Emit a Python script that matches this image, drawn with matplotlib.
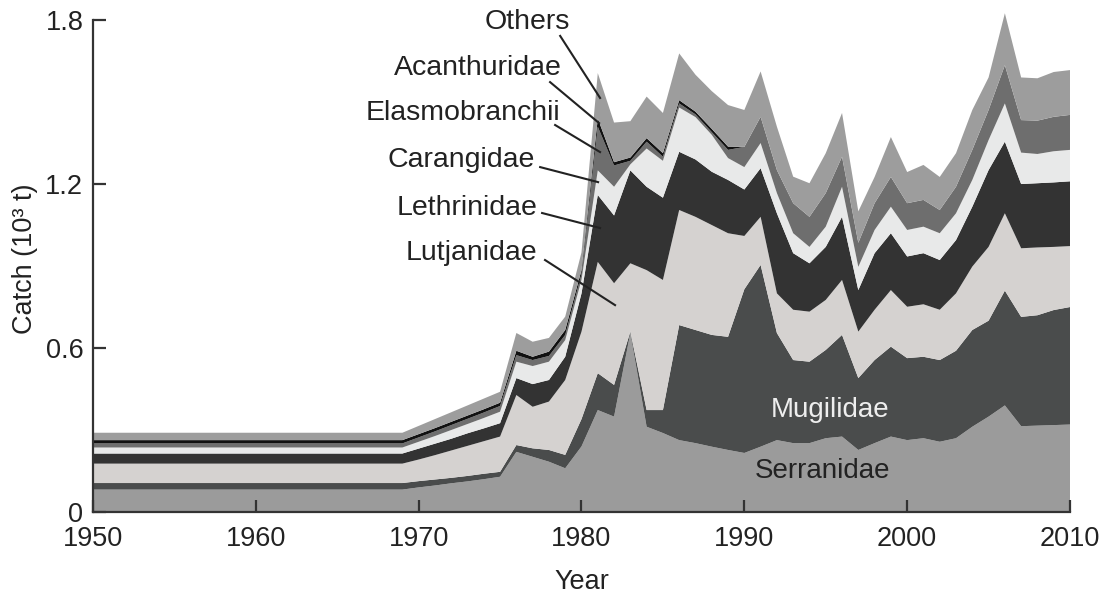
import matplotlib
matplotlib.use("Agg")
import matplotlib.pyplot as plt

plt.rcParams['font.family'] = ['Liberation Sans', 'DejaVu Sans']

# 1950 and 1969 bound the flat early segment, then yearly values
years = [1950] + list(range(1969, 2011))

serranidae = [0.082, 0.082,
              0.090, 0.097, 0.105, 0.112, 0.120, 0.129, 0.220, 0.202, 0.184, 0.160,
              0.240, 0.373, 0.349, 0.655, 0.312, 0.289, 0.263, 0.252, 0.239, 0.227,
              0.216, 0.239, 0.263, 0.252, 0.252, 0.270, 0.276, 0.227, 0.252, 0.276,
              0.263, 0.270, 0.257, 0.270, 0.312, 0.349, 0.390, 0.314, 0.316, 0.318,
              0.320]
mugilidae = [0.024, 0.024,
             0.023, 0.022, 0.020, 0.020, 0.020, 0.018, 0.025, 0.031, 0.043, 0.049,
             0.100, 0.135, 0.116, 0.005, 0.061, 0.084, 0.421, 0.414, 0.409, 0.414,
             0.599, 0.665, 0.392, 0.304, 0.298, 0.323, 0.372, 0.263, 0.304, 0.329,
             0.300, 0.298, 0.299, 0.320, 0.354, 0.351, 0.420, 0.400, 0.404, 0.421,
             0.430]
lutjanidae = [0.071, 0.071,
              0.079, 0.089, 0.100, 0.110, 0.119, 0.129, 0.183, 0.152, 0.177, 0.274,
              0.320, 0.407, 0.372, 0.250, 0.512, 0.476, 0.421, 0.414, 0.402, 0.379,
              0.195, 0.176, 0.145, 0.184, 0.183, 0.183, 0.201, 0.170, 0.184, 0.207,
              0.188, 0.192, 0.184, 0.210, 0.232, 0.270, 0.283, 0.251, 0.248, 0.231,
              0.223]
lethrinidae = [0.037, 0.037,
               0.040, 0.042, 0.043, 0.046, 0.047, 0.049, 0.062, 0.083, 0.079, 0.085,
               0.140, 0.245, 0.248, 0.340, 0.305, 0.301, 0.213, 0.210, 0.195, 0.195,
               0.170, 0.178, 0.293, 0.207, 0.177, 0.194, 0.231, 0.152, 0.207, 0.208,
               0.184, 0.187, 0.182, 0.195, 0.219, 0.281, 0.262, 0.235, 0.235, 0.236,
               0.237]
carangidae = [0.022, 0.022,
              0.025, 0.028, 0.032, 0.034, 0.038, 0.042, 0.060, 0.066, 0.067, 0.061,
              0.050, 0.090, 0.105, 0.022, 0.140, 0.135, 0.162, 0.155, 0.135, 0.080,
              0.082, 0.092, 0.074, 0.073, 0.060, 0.074, 0.110, 0.085, 0.085, 0.097,
              0.097, 0.097, 0.098, 0.098, 0.098, 0.110, 0.140, 0.115, 0.107, 0.114,
              0.115]
elasmobranchii = [0.015, 0.015,
                  0.016, 0.017, 0.018, 0.019, 0.020, 0.021, 0.024, 0.022, 0.021, 0.019,
                  0.020, 0.160, 0.078, 0.013, 0.025, 0.015, 0.015, 0.010, 0.010, 0.030,
                  0.074, 0.096, 0.084, 0.110, 0.110, 0.123, 0.110, 0.088, 0.098, 0.109,
                  0.098, 0.098, 0.085, 0.097, 0.110, 0.110, 0.140, 0.119, 0.122, 0.126,
                  0.128]
acanthuridae = [0.012, 0.012,
                0.012, 0.012, 0.012, 0.012, 0.012, 0.012, 0.016, 0.012, 0.016, 0.018,
                0.015, 0.030, 0.012, 0.012, 0.013, 0.013, 0.012, 0.010, 0.012, 0.012,
                0.0, 0.0, 0.0, 0.0, 0.0, 0.0, 0.0, 0.0, 0.0, 0.0,
                0.0, 0.0, 0.0, 0.0, 0.0, 0.0, 0.0, 0.0, 0.0, 0.0,
                0.0]
others = [0.027, 0.027,
          0.030, 0.033, 0.035, 0.037, 0.039, 0.040, 0.065, 0.055, 0.050, 0.049,
          0.065, 0.166, 0.145, 0.133, 0.152, 0.147, 0.171, 0.135, 0.138, 0.152,
          0.135, 0.166, 0.159, 0.097, 0.123, 0.146, 0.160, 0.115, 0.096, 0.146,
          0.114, 0.128, 0.121, 0.123, 0.146, 0.119, 0.190, 0.156, 0.155, 0.164,
          0.164]

colors = ['#9b9b9b', '#4a4c4c', '#d5d2d0', '#333333',
          '#e8e9e9', '#6e6e6e', '#111111', '#9d9d9d']

fig = plt.figure(figsize=(11.2, 5.96), dpi=100)
ax = fig.add_axes([93/1120, 84/596, 977/1120, 505.6/596])

ax.stackplot(years, serranidae, mugilidae, lutjanidae, lethrinidae,
             carangidae, elasmobranchii, acanthuridae, others,
             colors=colors, linewidth=0)

ax.set_xlim(1950, 2010)
ax.set_ylim(0, 1.85)
ax.spines['top'].set_visible(False)
ax.spines['right'].set_visible(False)
for s in ['left', 'bottom']:
    ax.spines[s].set_linewidth(1.6)
    ax.spines[s].set_color('#333333')
ax.spines['left'].set_bounds(0, 1.8)

ax.set_xticks([1950, 1960, 1970, 1980, 1990, 2000, 2010])
ax.set_yticks([0, 0.6, 1.2, 1.8])
ax.set_yticklabels(['0', '0.6', '1.2', '1.8'])
ax.tick_params(direction='in', length=9, width=1.6, color='#333333',
               labelsize=19.5, labelcolor='#222222')
ax.tick_params(axis='x', pad=10)
ax.tick_params(axis='y', pad=7)
ax.set_axisbelow(False)

ax.set_xlabel('Year', fontsize=19.5, color='#222222', labelpad=12)
ax.set_ylabel('Catch (10³ t)', fontsize=19.5, color='#222222', labelpad=5)

# leader labels
labels = [('Others', 1979.3, 1.793, 1978.69, 1.742, 1981.14, 1.515),
          ('Acanthuridae', 1978.8, 1.625, 1978.07, 1.573, 1981.08, 1.423),
          ('Elasmobranchii', 1978.7, 1.460, 1978.38, 1.416, 1981.14, 1.317),
          ('Carangidae', 1977.15, 1.288, 1977.46, 1.262, 1981.02, 1.207),
          ('Lethrinidae', 1977.27, 1.112, 1977.58, 1.094, 1981.14, 1.039),
          ('Lutjanidae', 1977.27, 0.948, 1977.76, 0.922, 1982.06, 0.757)]
for name, tx, ty, x0, y0, x1, y1 in labels:
    ax.text(tx, ty, name, ha='right', va='center', fontsize=20.5, color='#222222')
    ax.plot([x0, x1], [y0, y1], color='#222222', lw=1.5, clip_on=False)

ax.text(1995.27, 0.373, 'Mugilidae', ha='center', va='center',
        fontsize=20, color='#eeeeee')
ax.text(1994.78, 0.150, 'Serranidae', ha='center', va='center',
        fontsize=20, color='#222222')

fig.savefig('out.png', dpi=100)
